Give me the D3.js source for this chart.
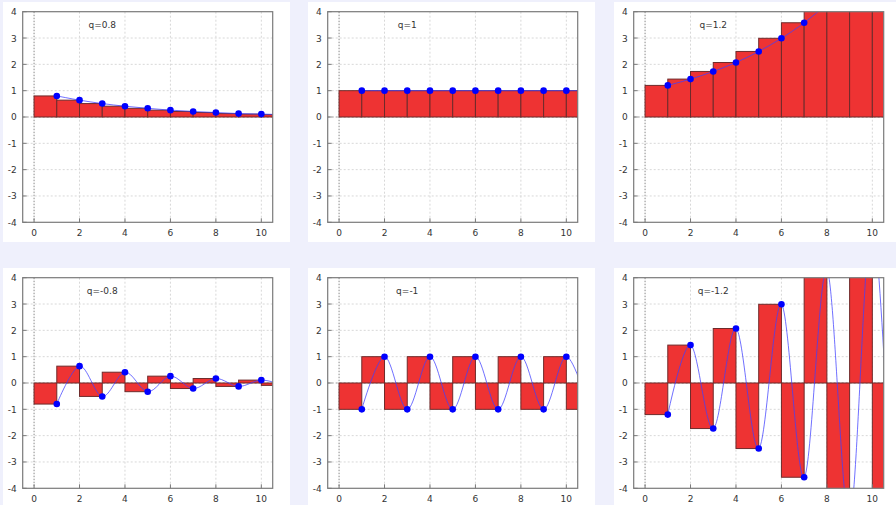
<!DOCTYPE html>
<html>
<head>
<meta charset="utf-8">
<script src="https://cdn.jsdelivr.net/npm/d3@7"></script>
<style>
  body { margin: 0; background: #eff0fc; }
  svg { display: block; }
</style>
</head>
<body>
<div id="chart"></div>
<script>
// values q^n for n = 1..11
const steps = [1, 2, 3, 4, 5, 6, 7, 8, 9, 10, 11];
const labels = ["q=0.8", "q=1", "q=1.2", "q=-0.8", "q=-1", "q=-1.2"];
const valsA = [0.8, 0.64, 0.51, 0.41, 0.33, 0.26, 0.21, 0.17, 0.13, 0.11, 0.09];
const valsB = [1, 1, 1, 1, 1, 1, 1, 1, 1, 1, 1];
const valsC = [1.2, 1.44, 1.73, 2.07, 2.49, 2.99, 3.58, 4.3, 5.16, 6.19, 7.43];
const valsD = [-0.8, 0.64, -0.51, 0.41, -0.33, 0.26, -0.21, 0.17, -0.13, 0.11, -0.09];
const valsE = [-1, 1, -1, 1, -1, 1, -1, 1, -1, 1, -1];
const valsF = [-1.2, 1.44, -1.73, 2.07, -2.49, 2.99, -3.58, 4.3, -5.16, 6.19, -7.43];
const xTicks = [0, 2, 4, 6, 8, 10];
const yTicks = [-4, -3, -2, -1, 0, 1, 2, 3, 4];

const allVals = [valsA, valsB, valsC, valsD, valsE, valsF];

const W = 896, H = 505;
const svg = d3.select("#chart").append("svg")
  .attr("width", W).attr("height", H);

// panel positions (white boxes)
const colX = [3, 308, 614];
const rowY = [2, 268];
const boxW = 287, boxH = 240;
const plotW = 250, plotH = 210.6;
const offX = 19.7, offY = 9.7;

const x = d3.scaleLinear().domain([-0.5, 10.5]).range([0, plotW]);
const y = d3.scaleLinear().domain([-4, 4]).range([plotH, 0]);

allVals.forEach((vals, i) => {
  const col = i % 3, row = Math.floor(i / 3);
  const g = svg.append("g")
    .attr("transform", `translate(${colX[col]},${rowY[row]})`);

  g.append("rect")
    .attr("width", boxW).attr("height", boxH)
    .attr("fill", "white");

  const p = g.append("g").attr("transform", `translate(${offX},${offY})`);

  const clipId = "clip" + i;
  p.append("clipPath").attr("id", clipId)
    .append("rect").attr("width", plotW).attr("height", plotH);

  // grid
  p.selectAll(".gx").data(xTicks).enter().append("line")
    .attr("x1", d => x(d)).attr("x2", d => x(d))
    .attr("y1", 0).attr("y2", plotH)
    .attr("stroke", d => d === 0 ? "#888" : "#d8d8d8")
    .attr("stroke-dasharray", d => d === 0 ? "1.5,1.5" : "2,2")
    .attr("stroke-width", 1);
  p.selectAll(".gy").data(yTicks.filter(d => d !== -4 && d !== 4)).enter().append("line")
    .attr("x1", 0).attr("x2", plotW)
    .attr("y1", d => y(d)).attr("y2", d => y(d))
    .attr("stroke", d => d === 0 ? "#999" : "#d8d8d8")
    .attr("stroke-dasharray", "2,2")
    .attr("stroke-width", 1);

  const data = steps.map((n, k) => ({ n: n, v: vals[k] }));
  const inner = p.append("g").attr("clip-path", `url(#${clipId})`);

  // bars on [n-1, n]
  inner.selectAll(".bar").data(data).enter().append("rect")
    .attr("x", d => x(d.n - 1))
    .attr("width", d => x(d.n) - x(d.n - 1))
    .attr("y", d => y(Math.max(0, d.v)))
    .attr("height", d => Math.abs(y(d.v) - y(0)))
    .attr("fill", "#ee3333")
    .attr("stroke", "#6e2b2b")
    .attr("stroke-width", 1);

  // smooth curve through points
  const line = d3.line()
    .x(d => x(d.n)).y(d => y(d.v))
    .curve(d3.curveCatmullRom.alpha(0));
  inner.append("path").datum(data)
    .attr("d", line)
    .attr("fill", "none")
    .attr("stroke", "#4040ff")
    .attr("stroke-opacity", 0.75)
    .attr("stroke-width", 1);

  inner.selectAll(".pt").data(data.filter(d => d.n <= 10 && Math.abs(d.v) <= 4)).enter()
    .append("circle")
    .attr("cx", d => x(d.n)).attr("cy", d => y(d.v))
    .attr("r", 3.3)
    .attr("fill", "#0000ff");

  // frame
  p.append("rect")
    .attr("width", plotW).attr("height", plotH)
    .attr("fill", "none")
    .attr("stroke", "#7a7a7a")
    .attr("stroke-width", 1.2);

  // ticks
  p.selectAll(".tx").data(xTicks).enter().append("line")
    .attr("x1", d => x(d)).attr("x2", d => x(d))
    .attr("y1", plotH).attr("y2", plotH - 4)
    .attr("stroke", "#7a7a7a");
  p.selectAll(".ty").data(yTicks).enter().append("line")
    .attr("x1", 0).attr("x2", 4)
    .attr("y1", d => y(d)).attr("y2", d => y(d))
    .attr("stroke", "#7a7a7a");

  p.selectAll(".lx").data(xTicks).enter().append("text")
    .attr("x", d => x(d)).attr("y", plotH + 14)
    .attr("text-anchor", "middle")
    .style("font-family", "DejaVu Sans, sans-serif")
    .style("font-size", "9px")
    .style("fill", "#333")
    .text(d => d);
  p.selectAll(".ly").data(yTicks).enter().append("text")
    .attr("x", -6).attr("y", d => y(d) + 3.5)
    .attr("text-anchor", "end")
    .style("font-family", "DejaVu Sans, sans-serif")
    .style("font-size", "9px")
    .style("fill", "#333")
    .text(d => d);

  p.append("text")
    .attr("x", x(3)).attr("y", y(3.5) + 3)
    .attr("text-anchor", "middle")
    .style("font-family", "DejaVu Sans, sans-serif")
    .style("font-size", "9px")
    .style("fill", "#333")
    .text(labels[i]);
});
</script>
</body>
</html>
